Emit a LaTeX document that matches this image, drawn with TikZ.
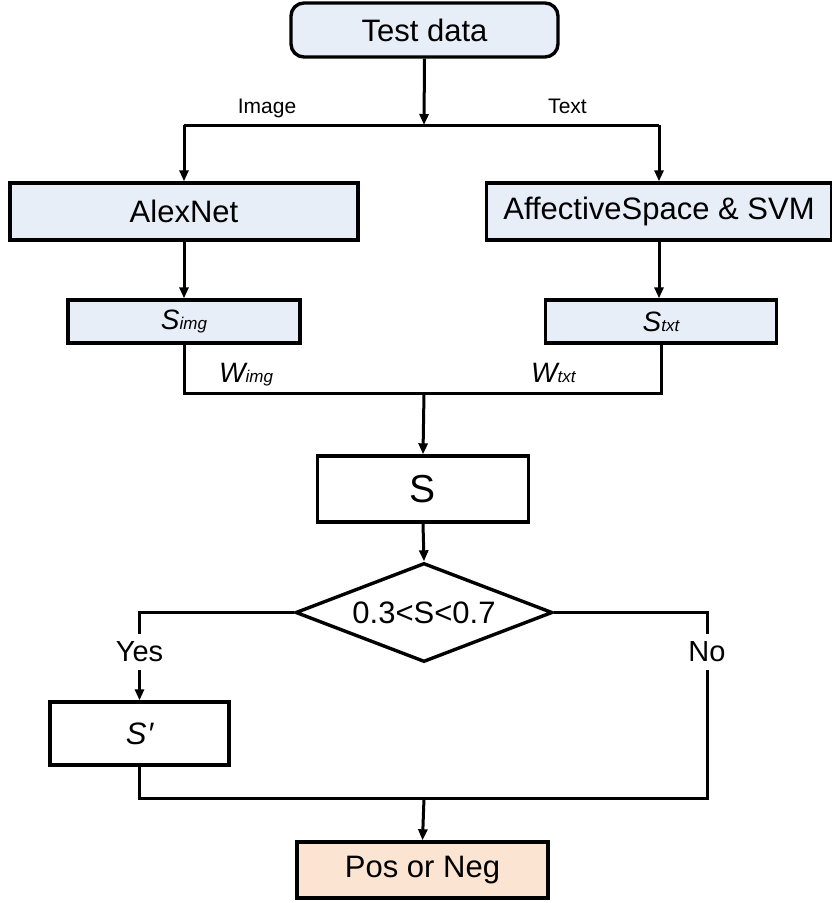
\documentclass[tikz,border=0pt]{standalone}
\usepackage{fontspec}
\setmainfont{Liberation Sans}
\usetikzlibrary{shapes.geometric,arrows.meta}
\definecolor{bluebox}{HTML}{E8EEF8}
\definecolor{peach}{HTML}{FCE4D2}
\tikzset{
  box/.style={draw=black, line width=3.4pt, inner sep=0pt, anchor=center},
  bigtxt/.style={font=\fontsize{31}{36}\selectfont},
  conn/.style={line width=3pt},
  arr/.style={conn, -{Triangle[length=11pt,width=9pt]}},
  lbl/.style={inner sep=0pt, font=\fontsize{21}{24}\selectfont},
  yn/.style={fill=white, inner xsep=2pt, inner ysep=8pt, font=\fontsize{29}{32}\selectfont},
}
\newcommand{\subtxt}[2]{{\itshape\fontsize{#1}{#1}\selectfont #2}}
\begin{document}
\begin{tikzpicture}[x=1pt,y=-1pt]
\useasboundingbox (0,0) rectangle (831,903);
% nodes
\node[box, bigtxt, fill=bluebox, rounded corners=13pt, minimum width=267pt, minimum height=54pt] (test) at (424.5,30) {Test data};
\node[box, bigtxt, fill=bluebox, minimum width=348pt, minimum height=57pt] (alex) at (184,211.5) {AlexNet};
\node[box, bigtxt, fill=bluebox, minimum width=345pt, minimum height=57pt] (aff) at (659,211.5) {AffectiveSpace \& SVM};
\node[box, fill=bluebox, minimum width=232pt, minimum height=43pt] (simg) at (184,321.5) {\subtxt{28}{S}\subtxt{17}{img}};
\node[box, fill=bluebox, minimum width=231pt, minimum height=43pt] (stxt) at (661,321.5) {\subtxt{28}{S}\subtxt{17}{txt}};
\node[box, fill=white, minimum width=211pt, minimum height=66pt, font=\fontsize{39}{42}\selectfont] (sbox) at (423,489) {S};
\node[box, fill=white, diamond, aspect=2.6, minimum width=257pt, minimum height=99pt, bigtxt] (dia) at (424,612.5) {0.3<S<0.7};
\node[box, fill=white, minimum width=179pt, minimum height=63pt, font=\fontsize{31}{36}\selectfont] (sp) at (139.5,733.5) {\itshape S\kern1pt\char"2032};
\node[box, bigtxt, fill=peach, minimum width=251pt, minimum height=56pt] (pos) at (422.5,870) {Pos or Neg};
% coordinates
\coordinate (j1) at (424,125);
\coordinate (j1l) at (184,125);
\coordinate (j1r) at (659,125);
\coordinate (j2) at (424,393);
\coordinate (j3) at (424,798);
\coordinate (j3r) at (707,798);
% connectors
\draw[arr] (test.south) -- (j1);
\draw[conn] (j1l) -- (j1r);
\draw[arr] (j1l) -- (alex.north);
\draw[arr] (j1r) -- (aff.north);
\draw[arr] (alex.south) -- (simg.north);
\draw[arr] (aff.south) -- (aff.south |- stxt.north);
\draw[conn] (simg.south) |- (j2) -| (stxt.south);
\draw[arr] (j2) -- (sbox.north);
\draw[arr] (sbox.south) -- (dia.north);
\draw[arr] (dia.west) -| (sp.north);
\draw[conn] (sp.south) |- (j3);
\draw[conn] (dia.east) -| (j3r) -- (j3);
\draw[arr] (j3) -- (pos.north);
% labels
\node[lbl, anchor=base] (limg) at (267,113) {Image};
\node[lbl, anchor=base] (ltxt) at (567.5,113) {Text};
\node[inner sep=0pt, anchor=base west] (wimg) at (219,382) {\subtxt{28}{W}\subtxt{17}{img}};
\node[inner sep=0pt, anchor=base west] (wtxt) at (531,382) {\subtxt{28}{W}\subtxt{17}{txt}};
\node[yn] (yes) at (139.5,652) {Yes};
\node[yn] (no) at (707,652) {No};
\end{tikzpicture}
\end{document}
